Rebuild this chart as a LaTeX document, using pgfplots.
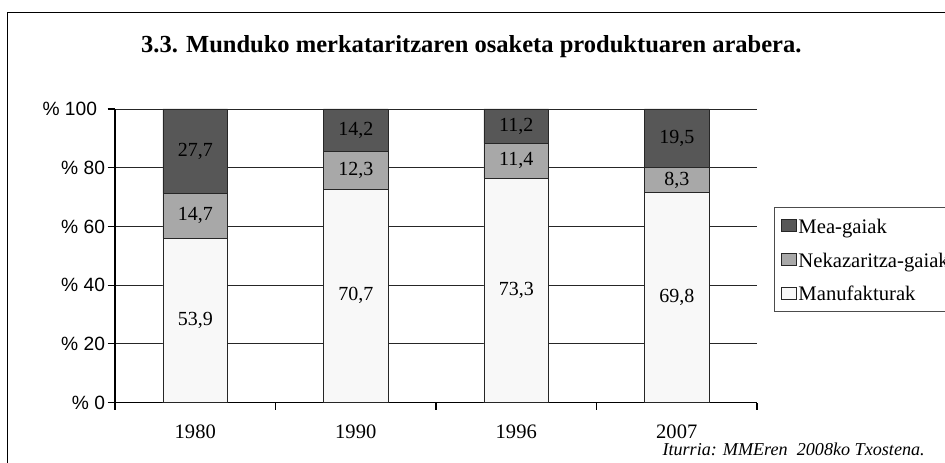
\documentclass[border=0pt]{standalone}
\usepackage{pgfplots}
\pgfplotsset{compat=1.18}
\usepackage{pgfplotstable}
\usepackage{fontspec}
\setmainfont{Liberation Serif}
\newfontfamily\arialf{Liberation Sans}
\definecolor{mea}{HTML}{575757}
\definecolor{nek}{HTML}{A8A8A8}
\definecolor{manu}{HTML}{F8F8F8}

% normalised shares (each year scaled to 100)
\pgfplotstableread{
x manu nek mea
1 55.97 15.26 28.77
2 72.74 12.65 14.61
3 76.43 11.89 11.68
4 71.52 8.50 19.98
}\shares
% label positions (segment centres) and printed values
\pgfplotstableread{
x y lab
1 27.99 53,9
1 63.60 14,7
1 85.62 27,7
2 36.37 70,7
2 79.07 12,3
2 92.70 14,2
3 38.22 73,3
3 82.38 11,4
3 94.16 11,2
4 35.76 69,8
4 75.77 8,3
4 90.01 19,5
}\labels

\pgfplotsset{
  base/.style={
    at={(86.25pt,-301.875pt)}, anchor=south west,
    scale only axis, width=481.5pt, height=220.125pt,
    xmin=0.5, xmax=4.5, ymin=0, ymax=100,
  }
}

\begin{document}
\begin{tikzpicture}
\useasboundingbox (0,0) rectangle (708.75pt,-347.25pt);
\draw[line width=1pt] (5.4pt,-400pt) -- (5.4pt,-9.2pt) -- (720pt,-9.2pt);
\node[anchor=base, inner sep=0pt, font=\fontsize{18.4}{22}\selectfont\bfseries]
  at (353.5pt,-39.2pt) {3.3. Munduko merkataritzaren osaketa produktuaren arabera.};
\node[anchor=base east, inner sep=0pt, font=\fontsize{13.6}{16}\selectfont\itshape]
  at (693.75pt,-341.25pt) {Iturria: MMEren\ \ 2008ko Txostena.};

\begin{axis}[base,
  ybar stacked, bar width=0.402,
  axis lines*=left,
  axis line style={black, line width=0.8pt},
  tick align=outside,
  major tick length=5.5pt,
  tick style={black, line width=0.8pt},
  ytick={0,20,40,60,80,100},
  yticklabels={\% 0,\% 20,\% 40,\% 60,\% 80,\% 100\hspace*{6pt}},
  yticklabel style={font=\arialf\fontsize{14.4}{16}\selectfont, anchor=east, xshift=1.5pt},
  ymajorgrids,
  grid style={black!85, line width=0.7pt},
  xtick={0.5,1.5,2.5,3.5,4.5},
  xticklabels={},
  extra x ticks={1,2,3,4},
  extra x tick labels={1980,1990,1996,2007},
  extra x tick style={major tick length=0pt, grid=none,
     xticklabel style={font=\fontsize{15.4}{18}\selectfont, yshift=-13pt}},
  legend style={at={(1.027,0.667)}, anchor=north west,
     draw=black!70, line width=0.8pt,
     font=\fontsize{15.5}{18}\selectfont,
     row sep=10.8pt, inner xsep=4.5pt, inner ysep=6.5pt,
     nodes={inner xsep=1.4pt, inner ysep=0pt, text height=13pt, text depth=1.5pt}},
  legend cell align=left,
  reverse legend,
  legend image code/.code={\draw[#1, draw=black!85, line width=0.6pt] (0pt,-4.5pt) rectangle (11.2pt,4.5pt);},
  every axis plot/.append style={draw=black!85, line width=0.7pt},
]
\addplot[fill=manu] table[x=x,y=manu] {\shares};
\addplot[fill=nek] table[x=x,y=nek] {\shares};
\addplot[fill=mea] table[x=x,y=mea] {\shares};
\legend{Manufakturak,Nekazaritza-gaiak,Mea-gaiak}
\end{axis}

\begin{axis}[base, hide axis]
\addplot[only marks, mark=none, nodes near coords, point meta=explicit symbolic,
  nodes near coords style={anchor=center, font=\fontsize{15}{18}\selectfont, text=black}]
  table[x=x,y=y,meta=lab] {\labels};
\end{axis}
\end{tikzpicture}
\end{document}
